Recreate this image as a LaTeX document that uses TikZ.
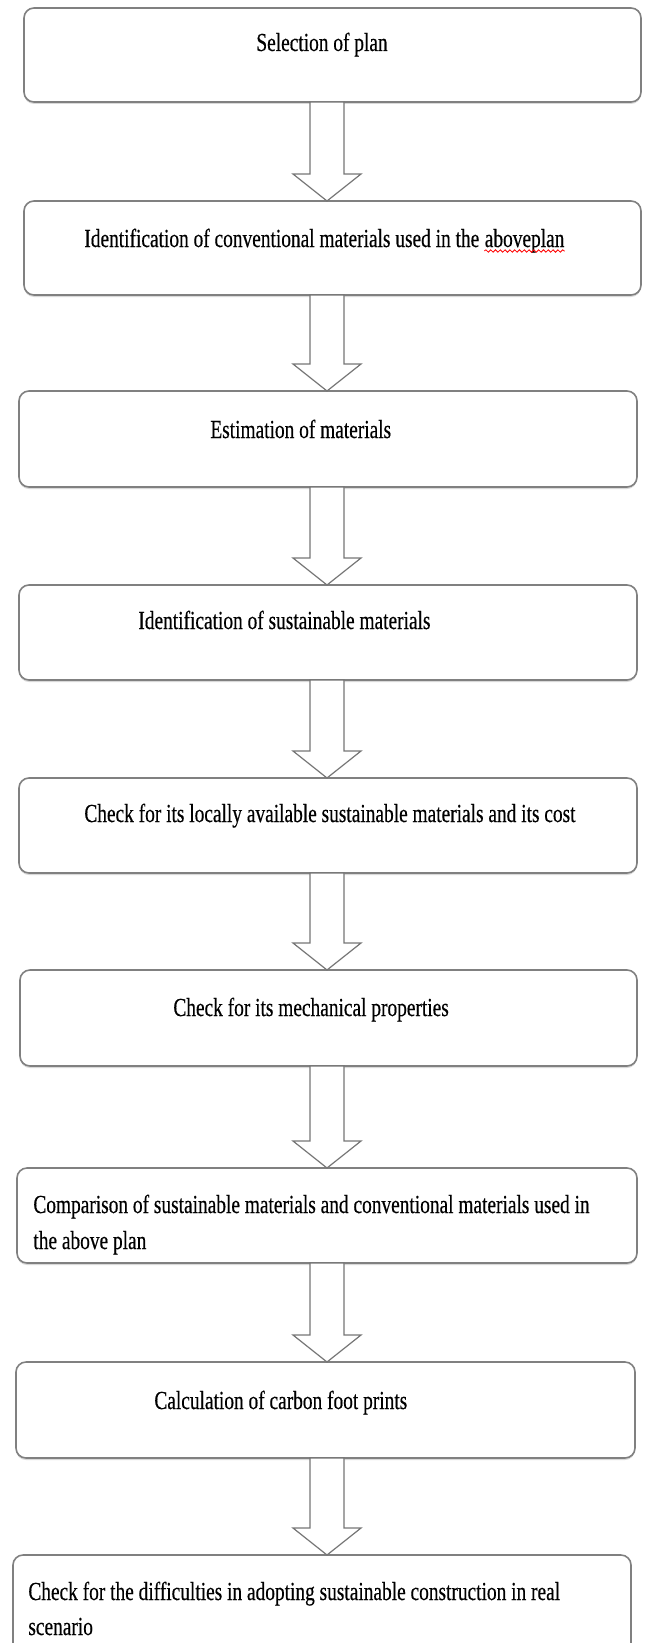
\documentclass[tikz,border=0pt]{standalone}
\usepackage{fontspec}
\setmainfont{Liberation Serif}[FakeStretch=0.745,FakeBold=0.4]
\usetikzlibrary{positioning,calc,fit,shadows,decorations.pathmorphing}
\definecolor{boxgray}{RGB}{128,128,128}
\definecolor{arrowgray}{RGB}{118,118,118}

\newcommand\flowarrow[2]{%
  \draw[arrowline] ($(#1.south -| ax)+(-17,0)$) -- ($(#2.north -| ax)+(-17,-27)$)
    -- ++(-17,0) -- (#2.north -| ax) -- ($(#2.north -| ax)+(34,-27)$) -- ++(-17,0)
    -- ($(#1.south -| ax)+(17,0)$) -- cycle;}

\begin{document}
\begin{tikzpicture}[x=0.5pt,y=-0.5pt,
    stepbox/.style={draw=boxgray, line width=0.8pt, rounded corners=5pt, fill=white,
        inner sep=0pt, outer sep=0pt,
        drop shadow={shadow xshift=0pt, shadow yshift=-1pt, opacity=0.3}},
    steptext/.style={anchor=base west, inner sep=0pt, font=\fontsize{13}{18}\selectfont},
    arrowline/.style={draw=arrowgray, line width=0.6pt, fill=white, line join=miter}]
    \useasboundingbox (0,0) rectangle (644,1643);
    \coordinate (ax) at (327,0);

    \node[stepbox, fit={(24,8) (641,102)}] (b1) {};
    \node[stepbox, fit={(24,201) (641,295)}] (b2) {};
    \node[stepbox, fit={(19,391) (637,487)}] (b3) {};
    \node[stepbox, fit={(19,585) (637,680)}] (b4) {};
    \node[stepbox, fit={(19,778) (637,873)}] (b5) {};
    \node[stepbox, fit={(20,970) (637,1066)}] (b6) {};
    \node[stepbox, fit={(17,1168) (637,1263)}] (b7) {};
    \node[stepbox, fit={(16,1362) (635,1458)}] (b8) {};
    \node[stepbox, fit={(13,1555) (631,1680)}] (b9) {};

    \node[steptext] (t1) at (256,51) {Selection of plan};
    \node[steptext] (t2) at (84,247) {Identification of conventional materials used in the};
    \node[steptext] (t2b) at ([xshift=2.4pt]t2.base east) {aboveplan};
    \draw[red, line width=0.4pt, decorate, decoration={snake, amplitude=0.6pt, segment length=2.4pt}]
        ([yshift=-2pt]t2b.base west) -- ([yshift=-2pt]t2b.base east);
    \node[steptext] (t3) at (210,438) {Estimation of materials};
    \node[steptext] (t4) at (138,629) {Identification of sustainable materials};
    \node[steptext] (t5) at (84,822) {Check for its locally available sustainable materials and its cost};
    \node[steptext] (t6) at (173,1016) {Check for its mechanical properties};
    \node[steptext] (t7) at (33,1213) {Comparison of sustainable materials and conventional materials used in};
    \node[steptext] (t7b) at ([yshift=-18pt]t7.base west) {the above plan};
    \node[steptext] (t8) at (154,1409) {Calculation of carbon foot prints};
    \node[steptext] (t9) at (28,1600) {Check for the difficulties in adopting sustainable construction in real};
    \node[steptext] (t9b) at ([yshift=-17.5pt]t9.base west) {scenario};

    \flowarrow{b1}{b2}
    \flowarrow{b2}{b3}
    \flowarrow{b3}{b4}
    \flowarrow{b4}{b5}
    \flowarrow{b5}{b6}
    \flowarrow{b6}{b7}
    \flowarrow{b7}{b8}
    \flowarrow{b8}{b9}
\end{tikzpicture}
\end{document}
